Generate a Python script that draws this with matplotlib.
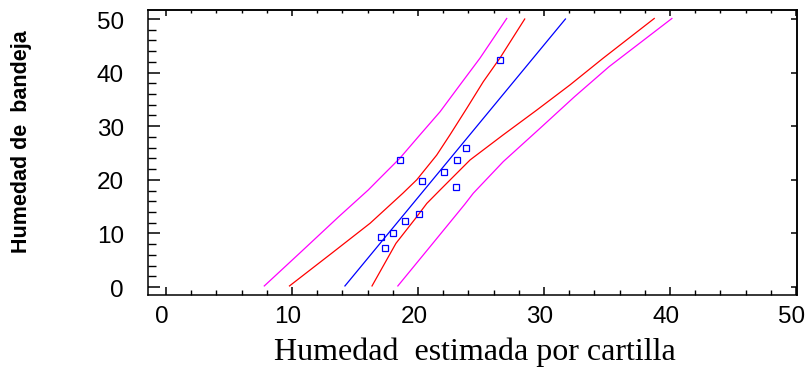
import matplotlib
matplotlib.use("Agg")
import matplotlib.pyplot as plt
from matplotlib.ticker import MultipleLocator, NullLocator
from matplotlib.transforms import ScaledTranslation, blended_transform_factory

# ---- data ----
pts_x = [17.1, 17.4, 18.0, 19.0, 20.1, 18.6, 20.3, 22.1, 23.0, 23.1, 23.8, 26.5]
pts_y = [9.4, 7.2, 10.1, 12.4, 13.7, 23.75, 19.8, 21.4, 18.6, 23.75, 25.9, 42.35]

fit_y = [0.2, 50.0]
fit_x = [14.2, 31.7]

conf_lo_y = [0.2, 6.3, 11.9, 17.5, 20.0, 24.6, 28.4, 33.3, 38.3, 42.7, 50.0]
conf_lo_x = [9.8, 13.15, 16.2, 18.8, 19.9, 21.48, 22.54, 23.86, 25.18, 26.5, 28.47]
conf_hi_y = [0.2, 8.15, 13.1, 15.6, 18.1, 23.7, 28.4, 33.0, 37.7, 42.7, 50.1]
conf_hi_x = [16.35, 18.25, 19.9, 20.7, 21.75, 24.13, 26.77, 29.42, 32.06, 34.7, 38.75]

pred_lo_y = [0.2, 6.3, 13.1, 18.1, 20.0, 24.0, 28.4, 32.7, 37.7, 42.7, 50.1]
pred_lo_x = [7.8, 10.6, 13.7, 16.05, 16.85, 18.55, 20.16, 21.75, 23.33, 24.92, 27.04]
pred_hi_y = [0.2, 7.5, 15.4, 17.5, 23.4, 29.6, 35.5, 41.1, 50.1]
pred_hi_x = [18.4, 20.95, 23.7, 24.39, 26.77, 29.68, 32.42, 35.16, 40.15]

xticks = [0, 10, 20, 30, 40, 50]
yticks = [0, 10, 20, 30, 40, 50]

# ---- figure ----
fig = plt.figure(figsize=(8.08, 3.70), dpi=100)
ax = fig.add_axes([148/808, 75/370, 649/808, 285/370])

lw = 0.9
ax.plot(pred_lo_x, pred_lo_y, color="#ff00ff", lw=lw)
ax.plot(pred_hi_x, pred_hi_y, color="#ff00ff", lw=lw)
ax.plot(conf_lo_x, conf_lo_y, color="#ff0000", lw=lw)
ax.plot(conf_hi_x, conf_hi_y, color="#ff0000", lw=lw)
ax.plot(fit_x, fit_y, color="#0000ff", lw=lw)
ax.plot(pts_x, pts_y, linestyle="none", marker="s", markersize=5,
        markerfacecolor="none", markeredgecolor="#0000ff", markeredgewidth=0.9)

ax.set_xlim(-1.43, 50.08)
ax.set_ylim(-1.49, 51.68)

tick_font = dict(family="Liberation Sans", size=17.5)
ax.set_xticks(xticks)
ax.set_yticks(yticks)
ax.set_xticklabels([])
ax.set_yticklabels([])
ax.xaxis.set_minor_locator(MultipleLocator(2))
ax.yaxis.set_minor_locator(MultipleLocator(2))

# tick labels placed as in the reference (slightly offset from their ticks)
xlab_tr = blended_transform_factory(ax.transData, ax.transAxes) + \
    ScaledTranslation(-4/100, -11/100, fig.dpi_scale_trans)
for t in xticks:
    ax.text(t, 0, str(t), transform=xlab_tr, ha="center", va="top",
            clip_on=False, **tick_font)
ylab_tr = blended_transform_factory(ax.transAxes, ax.transData) + \
    ScaledTranslation(-24/100, -3.5/100, fig.dpi_scale_trans)
for t in yticks:
    ax.text(0, t, str(t), transform=ylab_tr, ha="right", va="center",
            clip_on=False, **tick_font)

for s in ax.spines.values():
    s.set_linewidth(1.1)

ax.tick_params(axis="y", which="major", direction="in", length=8.6, width=1.1, right=False)
ax.tick_params(axis="y", which="minor", direction="in", length=5.8, width=1.0, right=False)
ax.tick_params(axis="x", which="major", direction="in", length=5.8, width=1.1, top=False)
ax.tick_params(axis="x", which="minor", direction="in", length=3.6, width=1.0, top=False)

# top and right tick marks (shorter, no labels)
sec_x = ax.secondary_xaxis("top")
sec_x.set_xticks(xticks)
sec_x.xaxis.set_minor_locator(MultipleLocator(2))
sec_x.tick_params(which="major", direction="in", length=4.3, width=1.1, labeltop=False)
sec_x.tick_params(which="minor", direction="in", length=2.5, width=1.0)
sec_x.spines["top"].set_linewidth(1.1)

sec_y = ax.secondary_yaxis("right")
sec_y.set_yticks(yticks)
sec_y.yaxis.set_minor_locator(NullLocator())
sec_y.tick_params(which="major", direction="in", length=4.3, width=1.1, labelright=False)
sec_y.spines["right"].set_linewidth(1.1)

fig.text(475/808, 1 - 352/370, "Humedad  estimada por cartilla",
         family="Liberation Serif", size=23, ha="center", va="center")
fig.text(22/808, 1 - 142/370, "Humedad de  bandeja",
         family="Liberation Sans", weight="bold", size=15.5, rotation=90,
         ha="center", va="center")

fig.savefig("out.png", dpi=100)
